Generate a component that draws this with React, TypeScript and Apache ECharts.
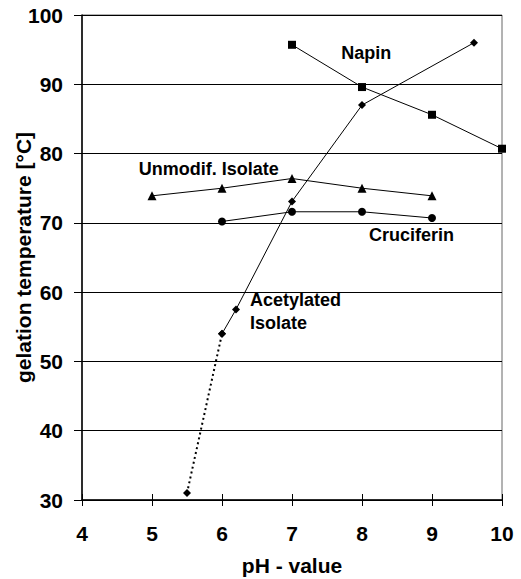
import React, { useEffect, useRef } from "react";
import * as echarts from "echarts";

// pH values and gelation temperatures (°C) per protein fraction
const napinX = [7, 8, 9, 10];
const napinY = [95.7, 89.6, 85.6, 80.7];

const unmodX = [5, 6, 7, 8, 9];
const unmodY = [73.9, 75.0, 76.4, 75.0, 73.9];

const crucX = [6, 7, 8, 9];
const crucY = [70.2, 71.6, 71.6, 70.7];

// acetylated isolate: extrapolated part (dotted) and measured part (solid)
const acetDottedX = [5.5, 6];
const acetDottedY = [31.0, 54.0];
const acetX = [6, 6.2, 7, 8, 9.6];
const acetY = [54.0, 57.5, 73.1, 87.0, 96.0];

const xTicks = [4, 5, 6, 7, 8, 9, 10];
const yTicks = [30, 40, 50, 60, 70, 80, 90, 100];

// curve captions, anchored in data coordinates
const captions = [
  { text: "Napin", x: 8.06, y: 94.5, align: "center" },
  { text: "Unmodif. Isolate", x: 4.81, y: 77.8, align: "left" },
  { text: "Cruciferin", x: 8.1, y: 68.3, align: "left" },
  { text: "Acetylated", x: 6.4, y: 58.9, align: "left" },
  { text: "Isolate", x: 6.4, y: 55.5, align: "left" },
];

const FONT = "'Liberation Sans', Arial, sans-serif";

const zip = (xs: number[], ys: number[]) => xs.map((x, i) => [x, ys[i]]);

export default function App() {
  const ref = useRef<HTMLDivElement>(null);

  useEffect(() => {
    if (!ref.current) return;
    const chart = echarts.init(ref.current, undefined, { renderer: "svg" });

    const line = (name: string, xs: number[], ys: number[], symbol: string, size: number, extra: any = {}) => ({
      name,
      type: "line",
      data: zip(xs, ys),
      symbol,
      symbolSize: size,
      showSymbol: true,
      itemStyle: { color: "#000" },
      lineStyle: { color: "#000", width: 1 },
      z: 5,
      ...extra,
    });

    const tickFont = { fontFamily: FONT, fontWeight: "bold", fontSize: 21, color: "#000" };

    chart.setOption({
      animation: false,
      backgroundColor: "#fff",
      grid: {
        left: 82,
        right: 19,
        top: 15,
        bottom: 79,
        containLabel: false,
        outerBoundsMode: "none",
        show: true,
        borderColor: "#666",
        borderWidth: 1,
      },
      xAxis: [
        {
          type: "value",
          min: xTicks[0],
          max: xTicks[xTicks.length - 1],
          interval: 1,
          name: "pH - value",
          nameLocation: "middle",
          nameGap: 55,
          nameMoveOverlap: false,
          nameTextStyle: tickFont,
          axisLine: { show: true, lineStyle: { color: "#000", width: 1.5 } },
          axisTick: { show: true, length: 6, lineStyle: { color: "#000" } },
          axisLabel: { ...tickFont, margin: 23 },
          splitLine: { show: false },
        },
        {
          // inner half of the crossing x ticks
          type: "value",
          position: "bottom",
          min: xTicks[0],
          max: xTicks[xTicks.length - 1],
          interval: 1,
          axisLine: { show: false },
          axisTick: { show: true, inside: true, length: 6, lineStyle: { color: "#000" } },
          axisLabel: { show: false },
          splitLine: { show: false },
        },
      ],
      yAxis: {
        type: "value",
        min: yTicks[0],
        max: yTicks[yTicks.length - 1],
        interval: 10,
        name: "gelation temperature [°C]",
        nameLocation: "middle",
        nameGap: 48,
        nameMoveOverlap: false,
        nameTextStyle: tickFont,
        axisLine: { show: true, lineStyle: { color: "#000", width: 1.5 } },
        axisTick: { show: true, length: 8, lineStyle: { color: "#000" } },
        axisLabel: { ...tickFont, margin: 19 },
        splitLine: { show: true, lineStyle: { color: "#000", width: 1 } },
      },
      series: [
        line("Napin", napinX, napinY, "rect", 8),
        line("Unmodif. Isolate", unmodX, unmodY, "triangle", 9),
        line("Cruciferin", crucX, crucY, "circle", 8),
        line("Acetylated Isolate (extrapolated)", acetDottedX, acetDottedY, "diamond", 8, {
          lineStyle: { color: "#000", width: 2, type: [2, 3] },
        }),
        line("Acetylated Isolate", acetX, acetY, "diamond", 8),
      ],
    });

    chart.setOption({
      graphic: captions.map((c) => {
        const [px, py] = chart.convertToPixel({ gridIndex: 0 }, [c.x, c.y]);
        return {
          type: "text",
          x: px,
          y: py,
          z: 10,
          style: {
            text: c.text,
            fontFamily: FONT,
            fontWeight: "bold",
            fontSize: 18,
            fill: "#000",
            align: c.align,
            verticalAlign: "middle",
          },
        };
      }),
    });

    return () => chart.dispose();
  }, []);

  return (
    <div
      ref={ref}
      style={{ position: "fixed", left: 0, top: 0, width: 521, height: 579, background: "#fff" }}
    />
  );
}
